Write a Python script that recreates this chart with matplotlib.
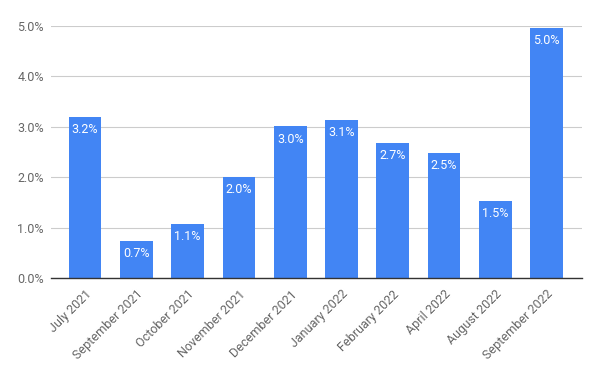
import matplotlib
matplotlib.use('Agg')
import matplotlib.pyplot as plt
import numpy as np
from matplotlib.ticker import FuncFormatter

months = ['July 2021', 'September 2021', 'October 2021', 'November 2021',
          'December 2021', 'January 2022', 'February 2022', 'April 2022',
          'August 2022', 'September 2022']
values = [3.19, 0.73, 1.07, 2.0, 3.01, 3.13, 2.68, 2.48, 1.53, 4.96]
labels = ['3.2%', '0.7%', '1.1%', '2.0%', '3.0%', '3.1%', '2.7%', '2.5%', '1.5%', '5.0%']

plt.rcParams['font.family'] = ['Roboto', 'DejaVu Sans']

fig = plt.figure(figsize=(6, 3.71), dpi=100)
ax = fig.add_axes([0.0845, 0.2507, 0.8855, 0.6793])

x = np.arange(len(months))
bars = ax.bar(x, values, width=0.64, color='#4285F4', zorder=3)

for b, lab in zip(bars, labels):
    ax.annotate(lab, (b.get_x() + b.get_width() / 2, b.get_height()),
                xytext=(0, -4.5), textcoords='offset points',
                ha='center', va='top', color='white', fontsize=9, zorder=4)

ax.set_ylim(0, 5)
ax.set_xlim(-0.67, len(months) - 0.31)
ax.set_yticks([0, 1, 2, 3, 4, 5])
ax.yaxis.set_major_formatter(FuncFormatter(lambda v, p: '%.1f%%' % v))
ax.grid(axis='y', color='#cccccc', linewidth=0.8, zorder=0)
ax.set_xticks(x)
ax.set_xticklabels(months, rotation=45, ha='right', rotation_mode='anchor')

for s in ['top', 'right', 'left']:
    ax.spines[s].set_visible(False)
ax.spines['bottom'].set_color('#333333')
ax.spines['bottom'].set_linewidth(1)
ax.spines['bottom'].set_zorder(5)
ax.tick_params(axis='both', length=0, colors='#666666', labelsize=9)
ax.tick_params(axis='y', pad=5)
ax.tick_params(axis='x', pad=7)

fig.savefig('out.png', dpi=100)
